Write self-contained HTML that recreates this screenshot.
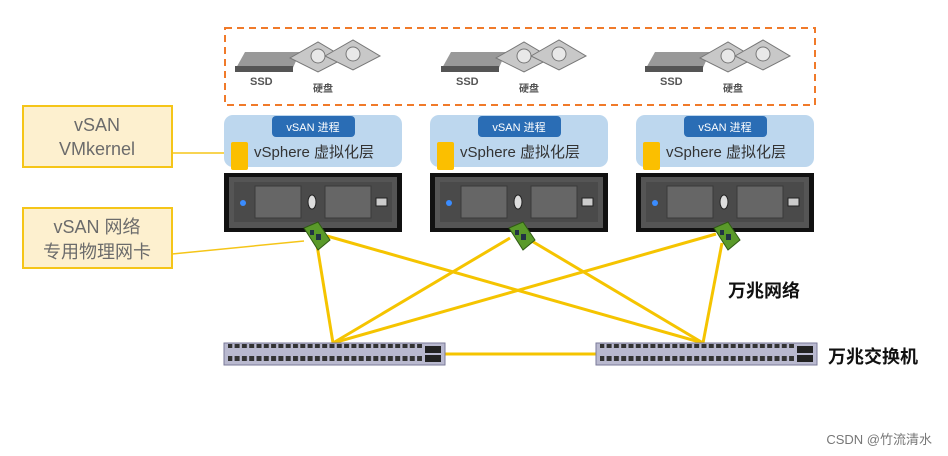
<!DOCTYPE html>
<html><head><meta charset="utf-8"><style>
html,body{margin:0;padding:0;background:#fff;width:948px;height:456px;overflow:hidden}
svg text{font-family:"Liberation Sans","Noto Sans CJK SC",sans-serif}
</style></head><body>
<svg width="948" height="456" viewBox="0 0 948 456" xmlns="http://www.w3.org/2000/svg">
<defs>
<pattern id="ports" x="0" y="0" width="7.3" height="22" patternUnits="userSpaceOnUse">
<rect x="1" y="4" width="5" height="5" fill="#333"/>
<rect x="1" y="13" width="5" height="5" fill="#333"/>
</pattern>
</defs>
<rect x="225" y="28" width="590" height="77" fill="none" stroke="#f07a2a" stroke-width="2" stroke-dasharray="7,5"/>
<g font-size="11" font-weight="bold" fill="#555">
 <g id="st">
  <polygon points="235,70 245,52 300,52 292,70" fill="#999"/><rect x="235" y="66" width="58" height="6" fill="#555"/>
  <polygon points="290,58 318,42 345,58 318,72" fill="#c8c8c8" stroke="#777"/>
  <polygon points="325,56 353,40 380,56 353,70" fill="#c8c8c8" stroke="#777"/>
  <circle cx="318" cy="56" r="7" fill="#e8e8e8" stroke="#777"/><circle cx="353" cy="54" r="7" fill="#e8e8e8" stroke="#777"/>
  <text x="250" y="85">SSD</text><text x="313" y="92" font-size="10">硬盘</text>
 </g>
 <use href="#st" x="206"/>
 <use href="#st" x="410"/>
</g>
<rect x="23" y="106" width="149" height="61" fill="#fdf0cf" stroke="#f5c518" stroke-width="2"/>
<text x="97" y="131" font-size="18" fill="#6b6b6b" text-anchor="middle">vSAN</text>
<text x="97" y="155" font-size="18" fill="#6b6b6b" text-anchor="middle">VMkernel</text>
<rect x="23" y="208" width="149" height="60" fill="#fdf0cf" stroke="#f5c518" stroke-width="2"/>
<text x="97" y="233" font-size="18" fill="#6b6b6b" text-anchor="middle">vSAN 网络</text>
<text x="97" y="258" font-size="18" fill="#6b6b6b" text-anchor="middle">专用物理网卡</text>
<line x1="172" y1="153" x2="231" y2="153" stroke="#f5c518" stroke-width="1.5"/>
<line x1="172" y1="254" x2="304" y2="241" stroke="#f5c518" stroke-width="1.5"/>
<g>
 <g id="h1">
  <rect x="224" y="115" width="178" height="52" rx="9" fill="#bdd7ee"/>
  <rect x="272" y="116" width="83" height="21" rx="4" fill="#2a6db5"/>
  <text x="313" y="131" font-size="11" fill="#fff" text-anchor="middle">vSAN 进程</text>
  <text x="254" y="157" font-size="15" fill="#333">vSphere 虚拟化层</text>
  <rect x="231" y="142" width="17" height="28" rx="2" fill="#fbbf00"/>
  <rect x="224" y="173" width="178" height="59" fill="#111"/>
  <rect x="229" y="177" width="168" height="51" fill="#555"/>
  <rect x="234" y="182" width="158" height="40" fill="#4a4a4a"/>
  <rect x="255" y="186" width="46" height="32" fill="#666" stroke="#3a3a3a"/>
  <rect x="325" y="186" width="46" height="32" fill="#666" stroke="#3a3a3a"/>
  <ellipse cx="312" cy="202" rx="4" ry="7" fill="#ddd" stroke="#222"/>
  <circle cx="243" cy="203" r="3" fill="#3a8cff"/>
  <rect x="376" y="198" width="11" height="8" fill="#ccc" stroke="#222"/>
 </g>
 <use href="#h1" x="206"/>
 <use href="#h1" x="412"/>
</g>
<g stroke="#f5c400" stroke-width="3" fill="none">
 <line x1="317" y1="245" x2="333" y2="343"/>
 <line x1="327" y1="236" x2="703" y2="343"/>
 <line x1="510" y1="238" x2="333" y2="343"/>
 <line x1="530" y1="240" x2="703" y2="343"/>
 <line x1="716" y1="234" x2="333" y2="343"/>
 <line x1="722" y1="243" x2="703" y2="343"/>
 <line x1="445" y1="354" x2="596" y2="354"/>
</g>
<g id="nic">
 <polygon points="304,228 318,222 330,240 318,250" fill="#5a9a2a" stroke="#2f5a14"/>
 <rect x="310" y="230" width="4" height="5" fill="#234"/><rect x="316" y="234" width="5" height="6" fill="#234"/>
</g>
<use href="#nic" x="205"/>
<use href="#nic" x="410"/>
<g id="sw">
 <rect x="224" y="343" width="221" height="22" fill="#b9b9cf" stroke="#7a7a99"/>
 <rect x="228" y="344" width="194" height="21" fill="url(#ports)"/>
 <rect x="425" y="346" width="16" height="7" fill="#222"/>
 <rect x="425" y="355" width="16" height="7" fill="#222"/>
</g>
<use href="#sw" x="372"/>
<text x="728" y="297" font-size="18" fill="#111" font-weight="bold">万兆网络</text>
<text x="828" y="363" font-size="18" fill="#111" font-weight="bold">万兆交换机</text>
<text x="932" y="444" font-size="13" fill="#777" text-anchor="end">CSDN @竹流清水</text>
</svg>
</body></html>
